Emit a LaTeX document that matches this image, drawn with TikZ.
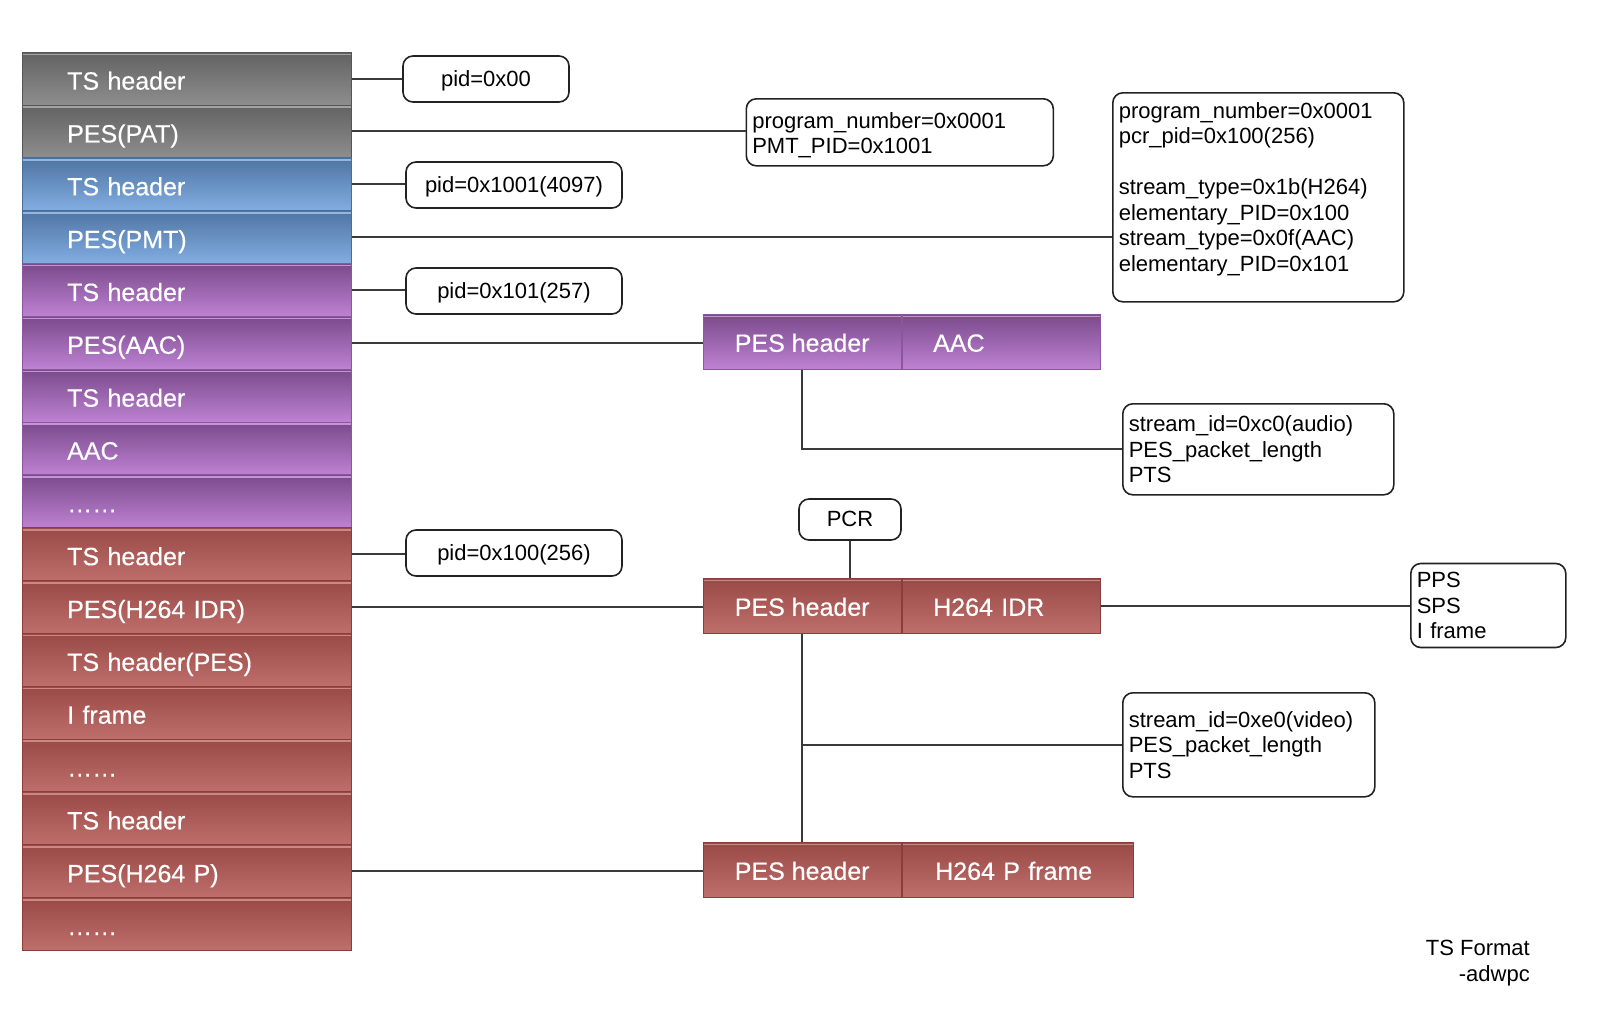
\documentclass[tikz,border=0pt]{standalone}
\usepackage{fontspec}
\setmainfont{Liberation Sans}
\newfontfamily\rowfam[FakeBold=0.35]{Liberation Sans}
\definecolor{grayT}{HTML}{626262}\definecolor{grayB}{HTML}{8E8E8E}\definecolor{grayD}{HTML}{555555}\definecolor{grayH}{HTML}{A2A2A2}
\definecolor{blueT}{HTML}{4F74A2}\definecolor{blueB}{HTML}{82AEE2}\definecolor{blueD}{HTML}{4A6C98}\definecolor{blueH}{HTML}{94B6DE}
\definecolor{purpT}{HTML}{7A4A8B}\definecolor{purpB}{HTML}{BE82D3}\definecolor{purpD}{HTML}{8A579E}\definecolor{purpH}{HTML}{C494D6}
\definecolor{redT}{HTML}{994A46}\definecolor{redB}{HTML}{BF6F6B}\definecolor{redD}{HTML}{8A3E3B}\definecolor{redH}{HTML}{CC8884}
\definecolor{lineC}{HTML}{3A3A3A}
\definecolor{boxC}{HTML}{222222}
\newcommand\rowfnt{\rowfam\fontsize{25}{30}\selectfont}
\newcommand\bxfnt{\fontsize{22}{25.5}\selectfont}
\newcommand\sixdots{……}
\newcommand\toppad{\rule{0pt}{21.5pt}}
\tikzset{
  seg/.style={rectangle, top color=#1T, bottom color=#1B, draw=#1D, line width=1pt,
    inner xsep=44.7pt, inner ysep=0pt, text width=239.6pt, align=left,
    minimum height=52.84pt, text=white, font=\rowfnt, anchor=north west,
    text height=22pt, text depth=0pt},
  cell/.style={rectangle, top color=#1T, bottom color=#1B, draw=#1D, line width=1pt,
    inner sep=0pt, minimum height=54.5pt, text=white, font=\rowfnt, anchor=north west,
    text height=20pt, text depth=0pt},
  bx/.style={rectangle, rounded corners=10pt, draw=boxC, line width=1.6pt, fill=white,
    font=\bxfnt, inner xsep=6pt, inner ysep=0pt, align=left, text=black},
  pidbox/.style={bx, align=center, minimum width=216pt, minimum height=46pt,
    text height=18pt, text depth=2.5pt},
  conn/.style={draw=lineC, line width=2pt},
}
\begin{document}
\begin{tikzpicture}[x=1pt,y=-1pt]
\useasboundingbox[fill=white] (0,0) rectangle (1599,1018);
% left column
\foreach \i/\t/\c in {1/TS header/gray, 2/PES(PAT)/gray, 3/TS header/blue, 4/PES(PMT)/blue,
  5/TS header/purp, 6/PES(AAC)/purp, 7/TS header/purp, 8/AAC/purp, 9/\sixdots/purp,
  10/TS header/red, 11/PES(H264 IDR)/red, 12/TS header(PES)/red, 13/I frame/red,
  14/\sixdots/red, 15/TS header/red, 16/PES(H264 P)/red, 17/\sixdots/red}{
  \node[seg=\c] (r\i) at (22, {51.7+52.84*(\i-1)}) {\t};
  \draw[draw=\c H, line width=1.6pt] ([xshift=1pt,yshift=-2.6pt]r\i.north west) -- ([xshift=-1pt,yshift=-2.6pt]r\i.north east);
}
% middle bars
\node[cell=purp, minimum width=198pt] (pa1) at (702.7,314) {PES header};
\node[cell=purp, minimum width=198.3pt, text width=136.3pt, inner xsep=31pt, align=left] (pa2) at (pa1.north east) {AAC};
\node[cell=red, minimum width=198pt] (pv1) at (702.7,578) {PES header};
\node[cell=red, minimum width=198.3pt, text width=136.3pt, inner xsep=31pt, align=left] (pv2) at (pv1.north east) {H264 IDR};
\node[cell=red, minimum width=198pt] (pp1) at (702.7,842) {PES header};
\node[cell=red, minimum width=231.6pt, text width=165.6pt, inner xsep=33pt, align=left] (pp2) at (pp1.north east) {H264 P frame};
\foreach \n/\c in {pa1/purp, pa2/purp, pv1/red, pv2/red, pp1/red, pp2/red}{
  \draw[draw=\c H, line width=1.6pt] ([xshift=1pt,yshift=-2.6pt]\n.north west) -- ([xshift=-1pt,yshift=-2.6pt]\n.north east);
}
% boxes
\node[pidbox, minimum width=166pt] (b00) at (486,79) {pid=0x00};
\node[pidbox] (b1001) at (514,185) {pid=0x1001(4097)};
\node[pidbox] (b101) at (514,291) {pid=0x101(257)};
\node[pidbox] (b100) at (514,553) {pid=0x100(256)};
\node[bx, anchor=north west, minimum height=67pt, text width=295pt] (bpmt) at (745.5,98)
  {\toppad program\_number=0x0001\\PMT\_PID=0x1001};
\node[bx, anchor=north west, minimum height=209pt, text width=279pt] (bbig) at (1112,92)
  {\rule{0pt}{20pt}program\_number=0x0001\\pcr\_pid=0x100(256)\\~\\stream\_type=0x1b(H264)\\elementary\_PID=0x100\\stream\_type=0x0f(AAC)\\elementary\_PID=0x101\\~};
\node[bx, anchor=north west, minimum height=91pt, text width=259pt] (baud) at (1122,403)
  {stream\_id=0xc0(audio)\\PES\_packet\_length\\PTS};
\node[bx, anchor=north west, minimum height=104pt, text width=240pt] (bvid) at (1122,692)
  {stream\_id=0xe0(video)\\PES\_packet\_length\\PTS};
\node[bx, anchor=north west, minimum height=84pt, text width=143pt] (bpps) at (1410,562.7)
  {PPS\\SPS\\I frame};
\node[bx, align=center, minimum width=102pt, minimum height=41pt, text height=17pt, text depth=3pt] (pcr) at (850,519.5) {PCR};
\node[font=\fontsize{22}{26}\selectfont, align=right, anchor=east, inner sep=0pt] (foot) at (1530,963) {TS Format\\-adwpc};
% connectors
\draw[conn] (r1.east) -- (r1.east -| b00.west);
\draw[conn] (r2.east) -- (r2.east -| bpmt.west);
\draw[conn] (r3.east) -- (r3.east -| b1001.west);
\draw[conn] (r4.east) -- (r4.east -| bbig.west);
\draw[conn] (r5.east) -- (r5.east -| b101.west);
\draw[conn] (r6.east) -- (r6.east -| pa1.west);
\draw[conn] (pa1.south) -- (pa1.south |- baud.west) -- (baud.west);
\draw[conn] (r10.east) -- (r10.east -| b100.west);
\draw[conn] (r11.east) -- (r11.east -| pv1.west);
\draw[conn] (pcr.south) -- (pcr.south |- pv1.north);
\draw[conn] (pv2.east) -- (pv2.east -| bpps.west);
\draw[conn] (pv1.south) -- (pp1.north);
\draw[conn] (pv1.south |- bvid.west) -- (bvid.west);
\draw[conn] (r16.east) -- (r16.east -| pp1.west);
\end{tikzpicture}
\end{document}
